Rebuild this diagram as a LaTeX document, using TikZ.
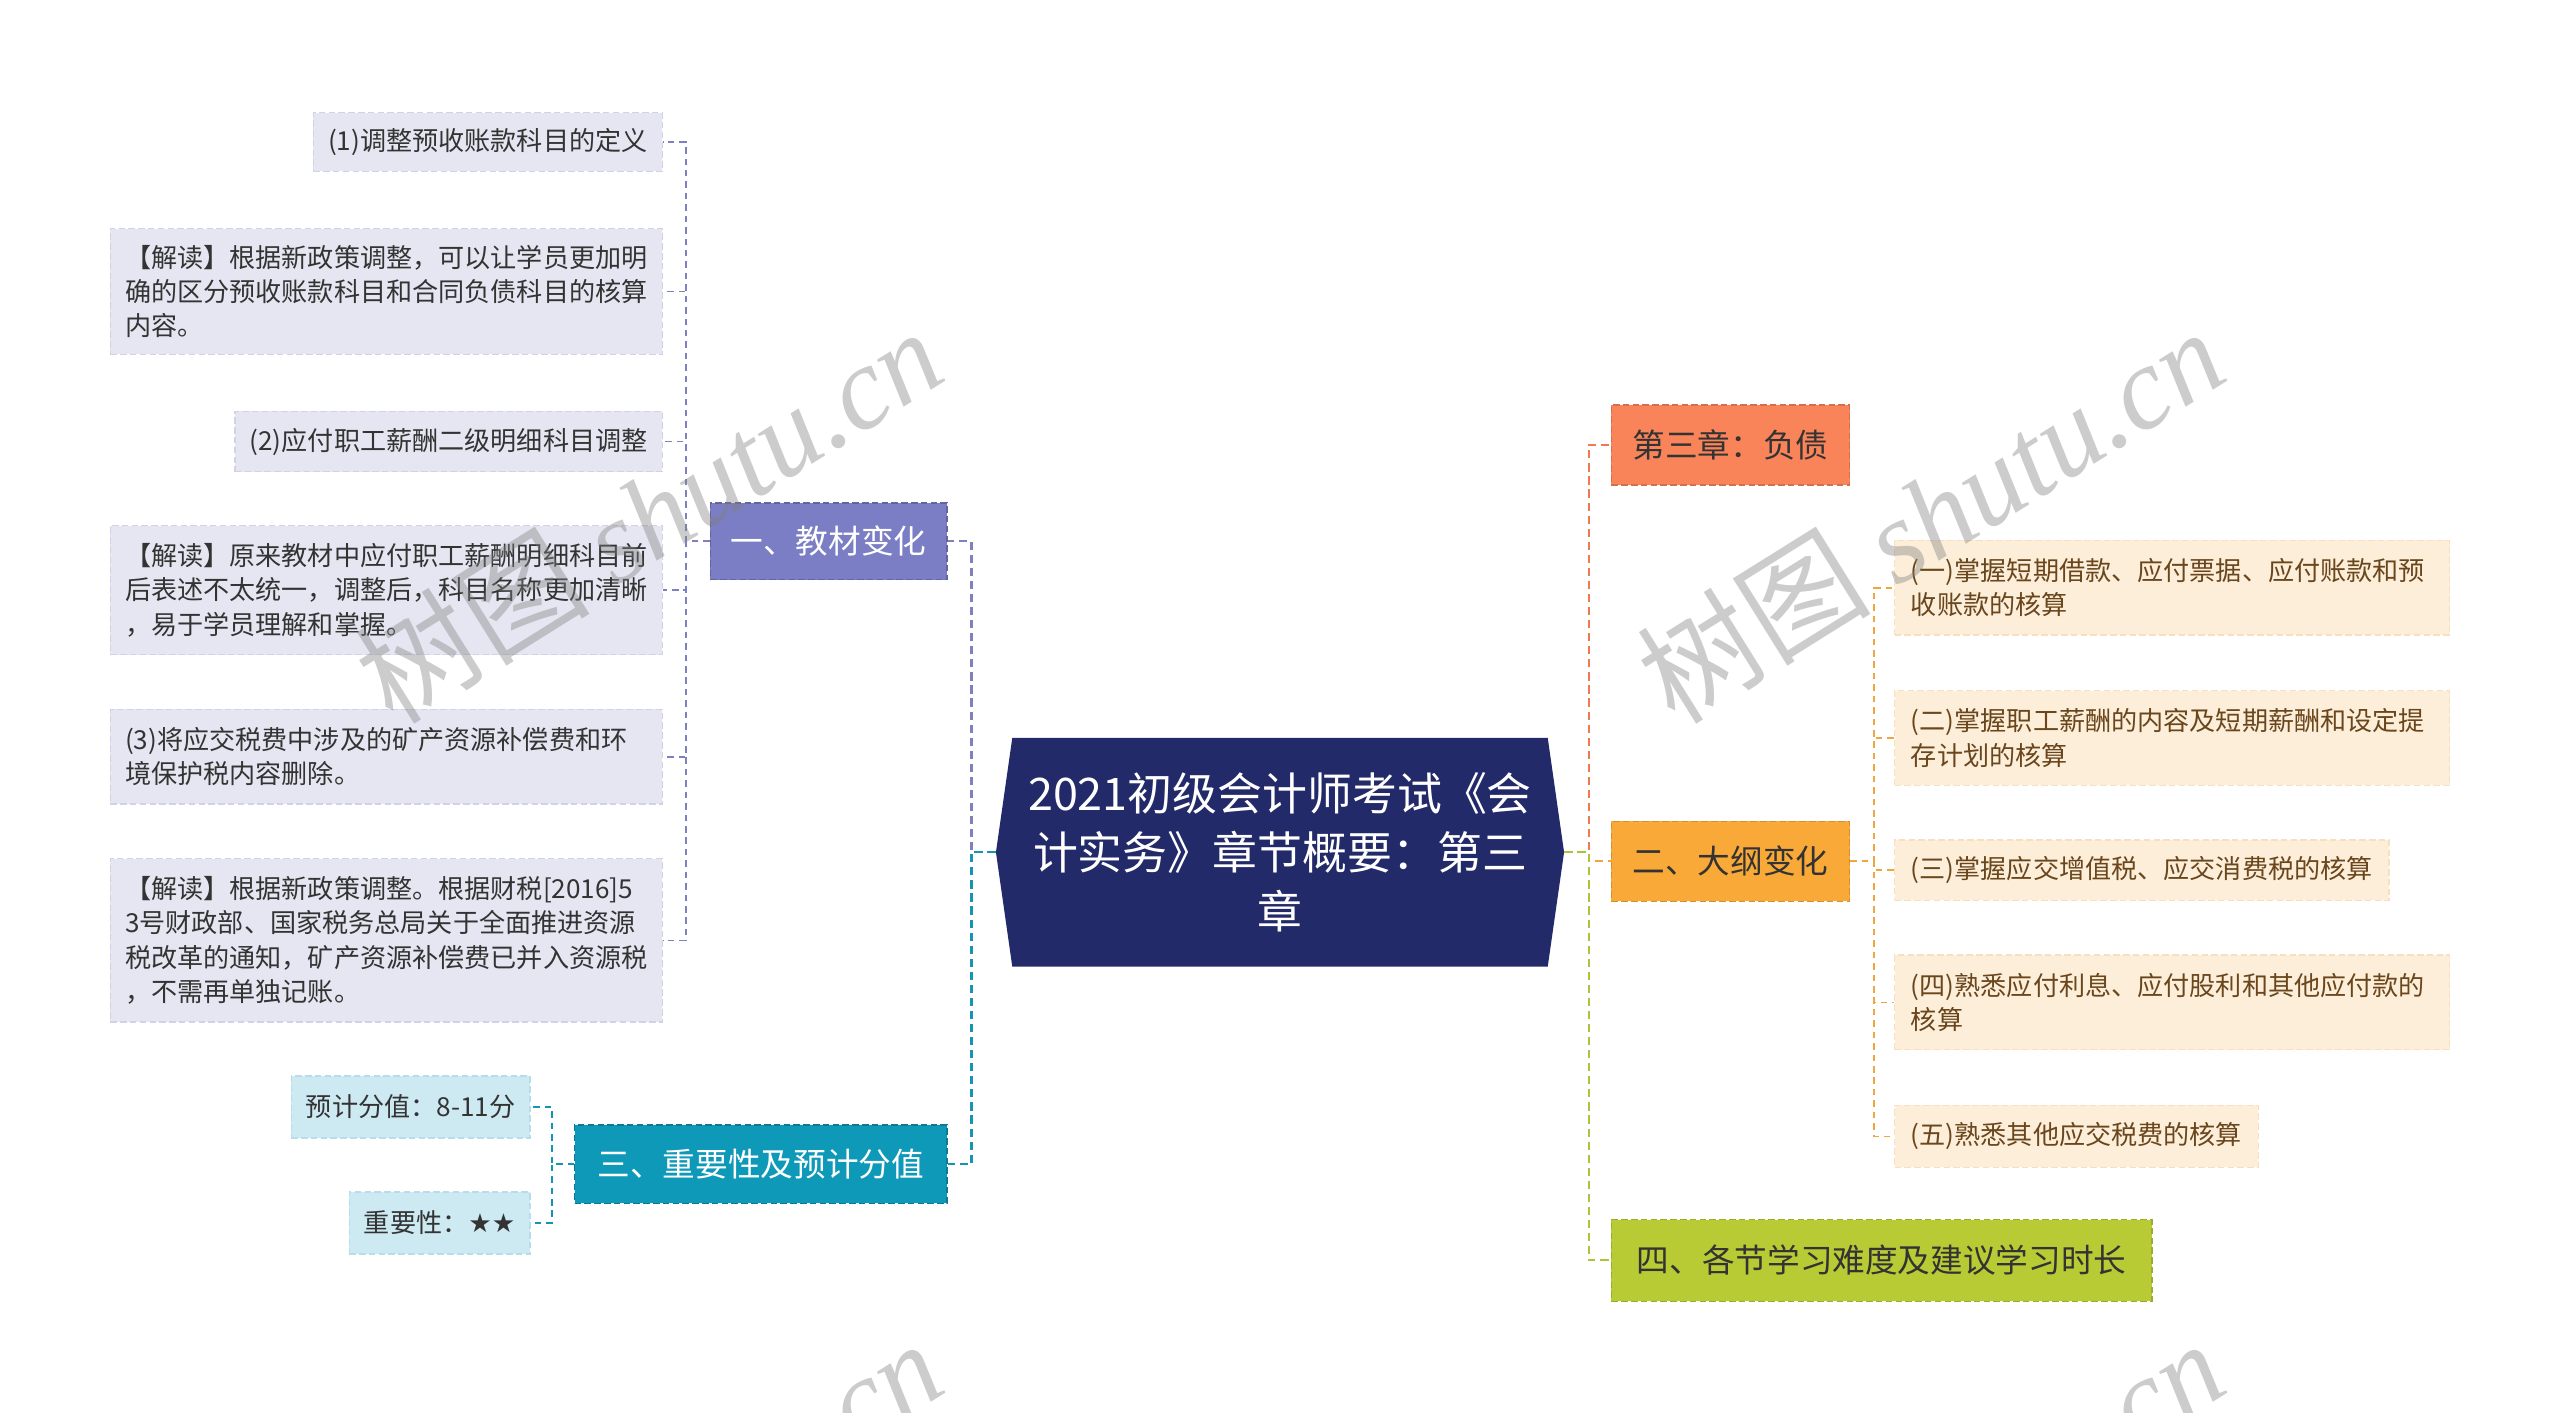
\documentclass[tikz,border=0pt]{standalone}
\usepackage{fontspec}
\setmainfont{Noto Sans CJK SC}
\newfontfamily\symf{DejaVu Sans}
\newfontfamily\wmlat{Liberation Serif}
\usetikzlibrary{calc}
\definecolor{lavfill}{HTML}{E6E6F2}
\definecolor{lavdraw}{HTML}{D2D2E6}
\definecolor{purp}{HTML}{7B7EC4}
\definecolor{purpline}{HTML}{7E80C0}
\definecolor{teal}{HTML}{0F99B9}
\definecolor{tealline}{HTML}{1595B3}
\definecolor{ltblue}{HTML}{CDE9F2}
\definecolor{ltbluedraw}{HTML}{B8DDEA}
\definecolor{navy}{HTML}{232A69}
\definecolor{coral}{HTML}{F9845A}
\definecolor{coralline}{HTML}{EE7A50}
\definecolor{orng}{HTML}{F9A938}
\definecolor{orngline}{HTML}{F0A640}
\definecolor{lime}{HTML}{B8CA34}
\definecolor{limeline}{HTML}{AEC33A}
\definecolor{peach}{HTML}{FDEEDA}
\definecolor{peachdraw}{HTML}{F6E0C0}
\definecolor{brown}{HTML}{6A461C}
\definecolor{txtgray}{HTML}{333333}
\begin{document}
\begin{tikzpicture}[x=1pt,y=-1pt,
  dash box/.style={dash pattern=on 4pt off 2pt, line width=0.8pt},
  lsub/.style={fill=lavfill, draw=lavdraw, dash box, text=txtgray, font=\fontsize{16}{21}\selectfont, inner xsep=9pt, inner ysep=0pt, align=left, anchor=east},
  lsubw/.style={lsub, text width=320pt},
  bsub/.style={fill=ltblue, draw=ltbluedraw, dash box, text=txtgray, font=\fontsize{16}{21}\selectfont, inner xsep=9pt, inner ysep=0pt, anchor=east, minimum height=38pt},
  rsub/.style={fill=peach, draw=peachdraw, dash box, text=brown, font=\fontsize{16}{21}\selectfont, inner xsep=10pt, inner ysep=0pt, align=left, anchor=west},
  rsubw/.style={rsub, text width=320pt},
  branch/.style={dash box, font=\fontsize{20}{24}\selectfont, inner sep=0pt},
  conn/.style={dash pattern=on 5pt off 3pt, line width=1.3pt},
  sconn/.style={dash pattern=on 4pt off 3pt, line width=1pt},
  wmark/.style={rotate=32, font=\fontsize{72}{72}\selectfont},
]
\useasboundingbox[fill=white] (0,0) rectangle (1568,865);

% center node
\fill[navy] (620,452) -- (948,452) -- (958,522) -- (948,592) -- (620,592) -- (610,522) -- cycle;
\node[minimum width=348pt, minimum height=140pt, inner sep=0pt, text=white, align=center,
  font=\fontsize{27.5}{36}\selectfont] (c) at (784,522)
  {2021初级会计师考试《会\\计实务》章节概要：第三\\章};

% left branches
\node[branch, fill=purp, draw=purp!80!black, text=white, minimum width=145pt, minimum height=47pt] (b1) at (507.5,331.5) {一、教材变化};
\node[branch, fill=teal, draw=teal!80!black, text=white, minimum width=228pt, minimum height=48pt] (b3) at (466,713) {三、重要性及预计分值};

% right branches
\node[branch, fill=coral, draw=coral!85!black, text=txtgray, minimum width=146pt, minimum height=49pt] (r1) at (1060,272.5) {第三章：负债};
\node[branch, fill=orng, draw=orng!85!black, text=txtgray, minimum width=146pt, minimum height=49pt] (r2) at (1060,527.5) {二、大纲变化};
\node[branch, fill=lime, draw=lime!85!black, text=txtgray, minimum width=331pt, minimum height=50pt] (r4) at (1152.5,772) {四、各节学习难度及建议学习时长};

% left leaves
\node[lsub, minimum height=36pt] (l1) at (406,87) {(1)调整预收账款科目的定义};
\node[lsubw, minimum height=77pt] (l2) at (406,178.5) {【解读】根据新政策调整，可以让学员更加明\\确的区分预收账款科目和合同负债科目的核算\\内容。};
\node[lsub, minimum height=37pt] (l3) at (406,270.5) {(2)应付职工薪酬二级明细科目调整};
\node[lsubw, minimum height=79pt] (l4) at (406,361.5) {【解读】原来教材中应付职工薪酬明细科目前\\后表述不太统一，调整后，科目名称更加清晰\\，易于学员理解和掌握。};
\node[lsubw, minimum height=58pt] (l5) at (406,463.5) {(3)将应交税费中涉及的矿产资源补偿费和环\\境保护税内容删除。};
\node[lsubw, minimum height=100pt] (l6) at (406,576) {【解读】根据新政策调整。根据财税[2016]5\\3号财政部、国家税务总局关于全面推进资源\\税改革的通知，矿产资源补偿费已并入资源税\\，不需再单独记账。};

\node[bsub] (t1) at (325,678) {预计分值：8-11分};
\node[bsub] (t2) at (325,749) {重要性：{\symf ★★}};

% right leaves
\node[rsubw, minimum height=58pt] (s1) at (1160,360) {(一)掌握短期借款、应付票据、应付账款和预\\收账款的核算};
\node[rsubw, minimum height=58pt] (s2) at (1160,452) {(二)掌握职工薪酬的内容及短期薪酬和设定提\\存计划的核算};
\node[rsub, minimum height=37pt] (s3) at (1160,533) {(三)掌握应交增值税、应交消费税的核算};
\node[rsubw, minimum height=58pt] (s4) at (1160,614) {(四)熟悉应付利息、应付股利和其他应付款的\\核算};
\node[rsub, minimum height=38pt] (s5) at (1160,696) {(五)熟悉其他应交税费的核算};

% main connectors
\draw[conn, purpline] (c.west) -- (595,522) |- (b1.east);
\draw[conn, tealline] (c.west) -- (595,522) |- (b3.east);
\draw[conn, coralline] (c.east) -- (973,522) |- (r1.west);
\draw[conn, orngline] (c.east) -- (973,522) |- (r2.west);
\draw[conn, limeline] (c.east) -- (973,522) |- (r4.west);

% left leaf connectors
\foreach \n in {l1,l2,l3,l4,l5,l6}
  \draw[sconn, purpline] (b1.west) -- (420,331.5) |- (\n.east);
\foreach \n in {t1,t2}
  \draw[sconn, tealline] (b3.west) -- (338,713) |- (\n.east);
\foreach \n in {s1,s2,s3,s4,s5}
  \draw[sconn, orngline] (r2.east) -- (1148,527.5) |- (\n.west);

% watermarks
\begin{scope}[opacity=0.4, text=gray]
\node[wmark] (w1) at (397,315) {树图 {\wmlat\itshape shutu.cn}};
\node[wmark] (w2) at (1182,315) {树图 {\wmlat\itshape shutu.cn}};
\node[wmark] (w3) at (397,935) {树图 {\wmlat\itshape shutu.cn}};
\node[wmark] (w4) at (1182,935) {树图 {\wmlat\itshape shutu.cn}};
\end{scope}
\end{tikzpicture}
\end{document}
